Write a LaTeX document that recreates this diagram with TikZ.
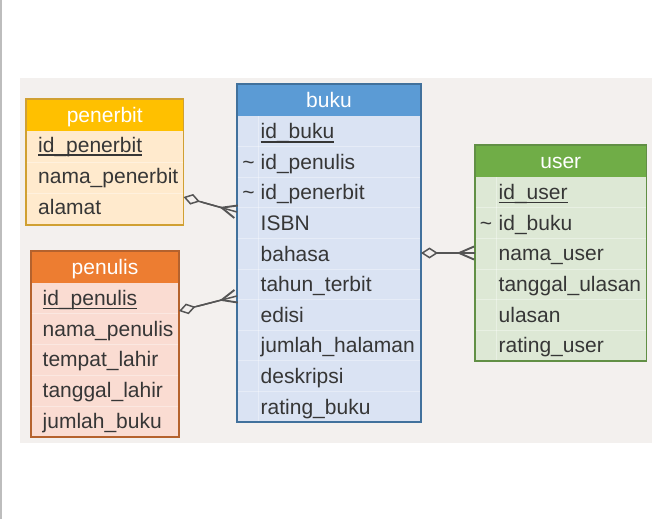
\documentclass[tikz,border=0pt]{standalone}
\usepackage{fontspec}
\setmainfont{Liberation Sans}
\usetikzlibrary{arrows.meta,positioning}

\definecolor{panelbg}{HTML}{F3F0EE}
\definecolor{edgegray}{HTML}{BDBDBD}
\definecolor{linkgray}{HTML}{555555}
\definecolor{fieldtext}{HTML}{363636}
\definecolor{pbhead}{HTML}{FFC000}
\definecolor{pbbody}{HTML}{FFEACD}
\definecolor{pbedge}{HTML}{D0A032}
\definecolor{pnhead}{HTML}{ED7D31}
\definecolor{pnbody}{HTML}{FADCD2}
\definecolor{pnedge}{HTML}{B5622D}
\definecolor{bkhead}{HTML}{5B9BD5}
\definecolor{bkbody}{HTML}{DAE3F3}
\definecolor{bkedge}{HTML}{41719C}
\definecolor{ushead}{HTML}{70AD47}
\definecolor{usbody}{HTML}{DDE8D5}
\definecolor{usedge}{HTML}{618F45}

\newcommand{\pkey}[1]{\setbox0\hbox{#1}\rlap{\rule[-3.9pt]{\wd0}{1.5pt}}\box0}

\begin{document}
\begin{tikzpicture}[
			x=1pt, y=-1pt,
			tbl/.style={rectangle, line width=1.2pt, inner sep=0pt, outer sep=0pt},
			hdr/.style={rectangle, anchor=north, inner sep=0pt, outer sep=0pt, minimum height=31pt,
				text=white, font=\fontsize{21}{25}\selectfont, text height=15.5pt, text depth=0pt},
			fld/.style={anchor=west, inner sep=0pt, text=fieldtext, font=\fontsize{21}{25}\selectfont,
				text height=15pt, text depth=4pt},
			rowline/.style={draw=white, draw opacity=0.35, line width=0.7pt},
			rel/.style={draw=linkgray, line width=1.5pt,
				{Diamond[open,length=17pt,width=11pt]}-{Straight Barb[reversed,length=15pt,width=13pt,line width=1.9pt]},
				postaction={draw=linkgray, -, shorten <=18pt}},
			]
			\useasboundingbox (0,0) rectangle (668,519);
			\draw [edgegray, line width=1.3pt] (1,0) -- (1,519);
			\fill [panelbg] (20,78) rectangle (652,443);

			% penerbit
			\node [tbl, draw=pbedge, fill=pbbody, minimum width=157.5pt, minimum height=126pt] (penerbit) at (104.75,162) {};
			\node [hdr, fill=pbhead, minimum width=156.3pt] (penerbit-h) at ([yshift=-0.6pt]penerbit.north) {penerbit};
			\foreach \i in {1,2}
				\draw [rowline] (26.7,{131+31*\i}) -- (182.8,{131+31*\i});
			\foreach \f [count=\i] in {\pkey{id\_penerbit}, nama\_penerbit, alamat}
				\node [fld] (penerbit-\i) at (38,{131+31*(\i-0.5)}) {\f};

			% penulis
			\node [tbl, draw=pnedge, fill=pnbody, minimum width=148pt, minimum height=186pt] (penulis) at (105,344) {};
			\node [hdr, fill=pnhead, minimum width=146.8pt] (penulis-h) at ([yshift=-0.6pt]penulis.north) {penulis};
			\foreach \i in {1,...,4}
				\draw [rowline] (31.7,{283+30.8*\i}) -- (178.3,{283+30.8*\i});
			\foreach \f [count=\i] in {\pkey{id\_penulis}, nama\_penulis, tempat\_lahir, tanggal\_lahir, jumlah\_buku}
				\node [fld] (penulis-\i) at (42.5,{284.3+30.8*(\i-0.5)}) {\f};

			% buku
			\node [tbl, draw=bkedge, fill=bkbody, minimum width=184pt, minimum height=338pt] (buku) at (329,253) {};
			\node [hdr, fill=bkhead, minimum width=182.8pt] (buku-h) at ([yshift=-0.6pt]buku.north) {buku};
			\foreach \i in {1,...,9}
				\draw [rowline] (237.7,{116+30.6*\i}) -- (420.3,{116+30.6*\i});
			\draw [rowline] (258,116) -- (258,421.3);
			\foreach \k/\f [count=\i] in {{}/\pkey{id\_buku}, \textasciitilde/id\_penulis, \textasciitilde/id\_penerbit,
				{}/ISBN, {}/bahasa, {}/tahun\_terbit, {}/edisi, {}/jumlah\_halaman, {}/deskripsi, {}/rating\_buku}
			{
				\node [fld, anchor=center] (buku-k\i) at (248.5,{117.8+30.6*(\i-0.5)}) {\k};
				\node [fld] (buku-\i) at (260.5,{117.8+30.6*(\i-0.5)}) {\f};
			}

			% user
			\node [tbl, draw=usedge, fill=usbody, minimum width=171.5pt, minimum height=216pt] (user) at (560.75,253) {};
			\node [hdr, fill=ushead, minimum width=170.3pt] (user-h) at ([yshift=-0.6pt]user.north) {user};
			\foreach \i in {1,...,5}
				\draw [rowline] (475.7,{177+30.67*\i}) -- (645.8,{177+30.67*\i});
			\draw [rowline] (496,177) -- (496,360.3);
			\foreach \k/\f [count=\i] in {{}/\pkey{id\_user}, \textasciitilde/id\_buku, {}/nama\_user,
				{}/tanggal\_ulasan, {}/ulasan, {}/rating\_user}
			{
				\node [fld, anchor=center] (user-k\i) at (486,{178.5+30.67*(\i-0.5)}) {\k};
				\node [fld] (user-\i) at (498.5,{178.5+30.67*(\i-0.5)}) {\f};
			}

			% relations
			\draw [rel] ([yshift=-35pt]penerbit.east) -- ([yshift=41pt]buku.west);
			\draw [rel] ([yshift=33pt]penulis.east) -- ([yshift=-43pt]buku.west);
			\draw [rel] (buku.east) -- (user.west);
		\end{tikzpicture}
\end{document}
